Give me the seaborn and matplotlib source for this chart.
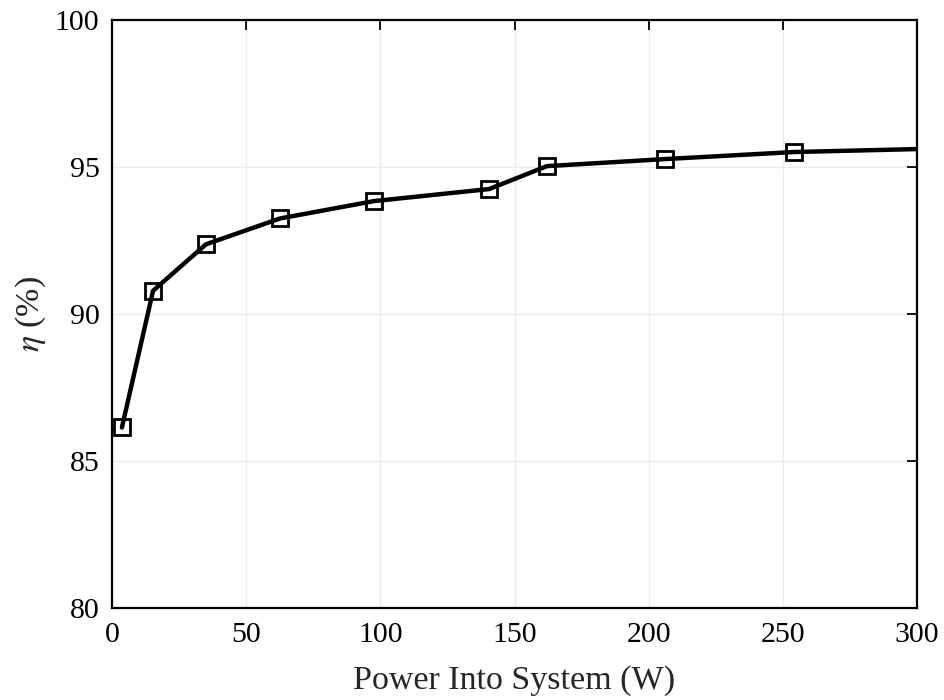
import numpy as np
import pandas as pd
import matplotlib
matplotlib.use('Agg')
import matplotlib.pyplot as plt
import seaborn as sns

# Efficiency vs input power
power_w = [3.7, 15.3, 35.0, 62.6, 97.6, 140.5, 162.1, 206.1, 254.2, 300.0]
eta_pct = [86.15, 90.8, 92.38, 93.26, 93.85, 94.26, 95.04, 95.28, 95.52, 95.62]
n_markers = 9  # last point has no marker (line runs off the edge)

df = pd.DataFrame({'P': power_w, 'eta': eta_pct})

sns.set_style('white')
plt.rcParams['font.family'] = ['Liberation Serif', 'DejaVu Serif']
plt.rcParams['mathtext.fontset'] = 'stix'

fig = plt.figure(figsize=(9.45, 7), dpi=100)
ax = fig.add_axes([0.1185, 0.131, 0.852, 0.840])

sns.lineplot(data=df, x='P', y='eta', color='black', linewidth=3.2, ax=ax,
             marker='s', markersize=11.5, markerfacecolor='none',
             markeredgecolor='black', markeredgewidth=2,
             markevery=list(range(n_markers)), clip_on=True)

ax.set_xlim(0, 300)
ax.set_ylim(80, 100)
ax.set_xticks(np.arange(0, 301, 50))
ax.set_yticks(np.arange(80, 101, 5))
ax.grid(True, color='#ebebeb', linewidth=1)
ax.tick_params(direction='in', length=7, width=1.3, top=True, right=True,
               labelsize=21.5, colors='black')
ax.tick_params(axis='x', pad=10)
ax.tick_params(axis='y', pad=9)
for s in ax.spines.values():
    s.set_linewidth(1.6)
    s.set_color('black')

ax.set_xlabel('Power Into System (W)', fontsize=24.5, labelpad=12)
ax.set_ylabel(r'$\eta$ (%)', fontsize=24.5, labelpad=5)

fig.savefig('out.png', dpi=100)
